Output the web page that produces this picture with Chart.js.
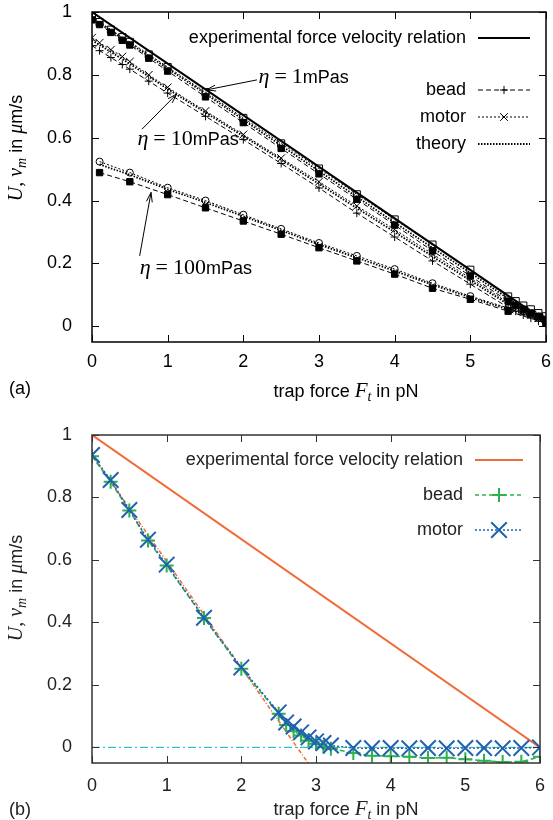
<!DOCTYPE html>
<html>
<head>
<meta charset="utf-8">
<script src="https://cdn.jsdelivr.net/npm/chart.js@4.4.0/dist/chart.umd.min.js"></script>
<style>
html, body { margin: 0; padding: 0; background: #fff; }
canvas { display: block; }
</style>
</head>
<body>
<canvas id="chart-a" width="553" height="415"></canvas>
<canvas id="chart-b" width="553" height="405"></canvas>
<script>
// ---- data ----
const forceTicks = [0, 1, 2, 3, 4, 5, 6];
const speedTicks = [0, 0.2, 0.4, 0.6, 0.8, 1];

// panel (a)
const expForce = [0, 6];
const expSpeedA = [1, 0.015];

const forceA = [0, 0.1, 0.25, 0.4, 0.5, 0.75, 1, 1.5, 2, 2.5, 3, 3.5, 4, 4.5, 5, 5.5, 5.6, 5.7, 5.8, 5.9, 6];
const bead1 = [0.975, 0.96, 0.935, 0.91, 0.895, 0.853, 0.812, 0.73, 0.648, 0.566, 0.485, 0.404, 0.322, 0.24, 0.16, 0.08, 0.066, 0.054, 0.042, 0.032, 0.022];
const motor1 = [0.985, 0.968, 0.944, 0.92, 0.905, 0.865, 0.825, 0.745, 0.663, 0.582, 0.502, 0.42, 0.34, 0.26, 0.18, 0.095, 0.08, 0.066, 0.054, 0.042, 0.032];
const theory1 = [0.98, 0.964, 0.94, 0.915, 0.9, 0.86, 0.82, 0.74, 0.657, 0.575, 0.494, 0.412, 0.33, 0.25, 0.17, 0.088, 0.073, 0.06, 0.048, 0.036, 0.026];

const bead10 = [0.893, 0.877, 0.855, 0.833, 0.818, 0.78, 0.742, 0.668, 0.594, 0.518, 0.44, 0.36, 0.284, 0.208, 0.134, 0.06, 0.048, 0.036, 0.026, 0.016, 0.008];
const motor10 = [0.918, 0.902, 0.88, 0.858, 0.842, 0.8, 0.76, 0.685, 0.61, 0.535, 0.46, 0.383, 0.308, 0.23, 0.153, 0.075, 0.062, 0.05, 0.038, 0.026, 0.015];
const theory10 = [0.91, 0.895, 0.873, 0.85, 0.835, 0.795, 0.755, 0.68, 0.605, 0.53, 0.453, 0.376, 0.3, 0.222, 0.146, 0.07, 0.056, 0.044, 0.032, 0.021, 0.012];

const force100 = [0.1, 0.5, 1, 1.5, 2, 2.5, 3, 3.5, 4, 4.5, 5, 5.5, 6];
const bead100 = [0.489, 0.46, 0.419, 0.377, 0.335, 0.293, 0.25, 0.208, 0.166, 0.121, 0.086, 0.048, 0.01];
const motor100 = [0.524, 0.489, 0.441, 0.4, 0.355, 0.31, 0.265, 0.224, 0.182, 0.137, 0.096, 0.058, 0.02];
const theory100 = [0.515, 0.482, 0.436, 0.394, 0.35, 0.305, 0.26, 0.218, 0.176, 0.132, 0.092, 0.054, 0.016];

// panel (b)
const expSpeedB = [1, 0];
const zeroForce = [0, 6];
const zeroSpeed = [0, 0];
const fitForce = [0, 2.9];
const fitSpeed = [0.936, -0.052];

const forceB = [0, 0.25, 0.5, 0.75, 1, 1.5, 2, 2.5, 2.6, 2.7, 2.8, 2.9, 3, 3.1, 3.2, 3.5, 3.75, 4, 4.25, 4.5, 4.75, 5, 5.25, 5.5, 5.75, 6];
const beadB = [0.932, 0.85, 0.758, 0.662, 0.582, 0.414, 0.252, 0.108, 0.072, 0.052, 0.038, 0.022, 0.012, 0.002, -0.004, -0.018, -0.027, -0.028, -0.03, -0.034, -0.033, -0.038, -0.043, -0.047, -0.046, -0.03];
const motorB = [0.936, 0.856, 0.76, 0.665, 0.585, 0.415, 0.256, 0.112, 0.08, 0.067, 0.048, 0.032, 0.019, 0.014, 0.006, -0.002, -0.003, -0.002, -0.003, -0.002, -0.003, -0.002, -0.002, -0.003, -0.002, 0];

// ---- look ----
const SANS = '"Liberation Sans", Arial, sans-serif';
const SERIF = '"Liberation Serif", "Times New Roman", serif';
const ORANGE = '#f26a35';
const GREEN = '#2bb24c';
const BLUE = '#1f63b0';
const CYAN = '#2fc3c8';

function xy(xs, ys) {
    return xs.map((x, i) => ({ x: x, y: ys[i] }));
}

function ds(label, xs, ys, st) {
    return Object.assign({
        label: label,
        data: xy(xs, ys),
        showLine: true,
        fill: false,
        tension: 0,
        borderColor: '#000',
        borderWidth: 1,
        pointRadius: 0,
        pointBorderColor: '#000',
        pointBackgroundColor: '#000',
        pointBorderWidth: 1
    }, st);
}

// rich text: list of {t, f, dy, gap}
function richWidth(ctx, segs) {
    let w = 0;
    segs.forEach(s => { ctx.font = s.f; w += (s.gap || 0) + ctx.measureText(s.t).width; });
    return w;
}
function rich(ctx, segs, x, y, align) {
    let cx = align === 'center' ? x - richWidth(ctx, segs) / 2 : (align === 'right' ? x - richWidth(ctx, segs) : x);
    ctx.textBaseline = 'alphabetic';
    ctx.textAlign = 'left';
    segs.forEach(s => {
        ctx.font = s.f;
        cx += s.gap || 0;
        ctx.fillText(s.t, cx, y + (s.dy || 0));
        cx += ctx.measureText(s.t).width;
    });
}

function mark(ctx, type, x, y, r) {
    ctx.beginPath();
    if (type === 'plus') {
        ctx.moveTo(x - r, y); ctx.lineTo(x + r, y);
        ctx.moveTo(x, y - r); ctx.lineTo(x, y + r);
    } else {
        const d = r * Math.SQRT1_2;
        ctx.moveTo(x - d, y - d); ctx.lineTo(x + d, y + d);
        ctx.moveTo(x - d, y + d); ctx.lineTo(x + d, y - d);
    }
    ctx.stroke();
}

function arrow(ctx, x1, y1, x2, y2) {
    const a = Math.atan2(y2 - y1, x2 - x1), L = 10, h = 0.3;
    ctx.beginPath();
    ctx.moveTo(x1, y1); ctx.lineTo(x2, y2);
    ctx.moveTo(x2 - L * Math.cos(a - h), y2 - L * Math.sin(a - h));
    ctx.lineTo(x2, y2);
    ctx.lineTo(x2 - L * Math.cos(a + h), y2 - L * Math.sin(a + h));
    ctx.stroke();
}

const yTitle = [
    { t: 'U', f: 'italic 20px ' + SERIF },
    { t: ',', f: '20px ' + SERIF },
    { t: 'v', f: 'italic 20px ' + SERIF, gap: 5 },
    { t: 'm', f: 'italic 14px ' + SERIF, dy: 4 },
    { t: ' in ', f: '18px ' + SANS },
    { t: 'μ', f: 'italic 20px ' + SERIF },
    { t: 'm/s', f: '18px ' + SANS }
];
const xTitle = [
    { t: 'trap force ', f: '18px ' + SANS },
    { t: 'F', f: 'italic 21px ' + SERIF },
    { t: 't', f: 'italic 14px ' + SERIF, dy: 4 },
    { t: ' in pN', f: '18px ' + SANS }
];
function etaLabel(n) {
    return [
        { t: 'η', f: 'italic 22px ' + SERIF },
        { t: '=', f: '22px ' + SERIF, gap: 5 },
        { t: n, f: '22px ' + SERIF, gap: 5 },
        { t: 'mPas', f: '18px ' + SANS }
    ];
}

// ticks inside on all four sides + frame
const frame = {
    id: 'frame',
    afterDatasetsDraw(chart, args, o) {
        const { ctx, chartArea: a } = chart;
        const x = chart.scales.x, y = chart.scales.y;
        ctx.save();
        ctx.strokeStyle = o.color;
        ctx.lineWidth = 1;
        ctx.beginPath();
        x.ticks.forEach(t => {
            const p = Math.round(x.getPixelForValue(t.value)) + 0.5;
            ctx.moveTo(p, a.bottom); ctx.lineTo(p, a.bottom - 7);
            ctx.moveTo(p, a.top); ctx.lineTo(p, a.top + 7);
        });
        y.ticks.forEach(t => {
            const p = Math.round(y.getPixelForValue(t.value)) + 0.5;
            ctx.moveTo(a.left, p); ctx.lineTo(a.left + 7, p);
            ctx.moveTo(a.right, p); ctx.lineTo(a.right - 7, p);
        });
        ctx.stroke();
        ctx.lineWidth = 1.5;
        ctx.strokeRect(a.left, a.top, a.right - a.left, a.bottom - a.top);
        ctx.restore();
    }
};

// legend, labels, axis titles
const overlay = {
    id: 'overlay',
    afterDraw(chart, args, o) {
        const ctx = chart.ctx;
        const x = chart.scales.x, y = chart.scales.y;
        ctx.save();
        ctx.fillStyle = o.text;
        ctx.strokeStyle = o.text;

        o.legend.forEach(e => {
            ctx.font = '18px ' + SANS;
            ctx.textAlign = 'right';
            ctx.textBaseline = 'middle';
            ctx.fillStyle = o.text;
            ctx.fillText(e.label, o.legendText, e.y);
            ctx.strokeStyle = e.color;
            ctx.lineWidth = e.width;
            ctx.setLineDash(e.dash);
            ctx.beginPath();
            ctx.moveTo(o.legendLine[0], e.y);
            ctx.lineTo(o.legendLine[1], e.y);
            ctx.stroke();
            ctx.setLineDash([]);
            if (e.mark) {
                ctx.lineWidth = e.markWidth;
                mark(ctx, e.mark, (o.legendLine[0] + o.legendLine[1]) / 2, e.y, e.markSize);
            }
        });

        ctx.fillStyle = o.text;
        ctx.strokeStyle = o.text;
        ctx.lineWidth = 1;
        (o.notes || []).forEach(n => {
            rich(ctx, etaLabel(n.eta), x.getPixelForValue(n.at[0]), y.getPixelForValue(n.at[1]) + 3, 'left');
            arrow(ctx, x.getPixelForValue(n.from[0]), y.getPixelForValue(n.from[1]),
                x.getPixelForValue(n.to[0]), y.getPixelForValue(n.to[1]));
        });

        rich(ctx, xTitle, o.xTitle[0], o.xTitle[1] + 6, 'center');
        ctx.font = '18px ' + SANS;
        ctx.textAlign = 'left';
        ctx.textBaseline = 'middle';
        ctx.fillText(o.panel, 9, o.panelY);

        ctx.translate(o.yTitle[0], o.yTitle[1]);
        ctx.rotate(-Math.PI / 2);
        rich(ctx, yTitle, 0, 6, 'center');
        ctx.restore();
    }
};

// y labels: lineHeight 0 so the tick padding alone sets the top gap
function scalesFor(color, xHeight, xLine) {
    return {
        x: {
            type: 'linear', min: 0, max: 6,
            afterBuildTicks: s => { s.ticks = forceTicks.map(v => ({ value: v })); },
            afterFit: s => { s.height = xHeight; },
            grid: { display: false },
            border: { display: false },
            ticks: { color: color, font: { family: SANS, size: 18, lineHeight: xLine }, padding: 2, maxRotation: 0, callback: v => String(v) }
        },
        y: {
            type: 'linear', min: -0.05, max: 1,
            afterBuildTicks: s => { s.ticks = speedTicks.map(v => ({ value: v })); },
            afterFit: s => { s.width = 92; },
            grid: { display: false },
            border: { display: false },
            ticks: { color: color, font: { family: SANS, size: 18, lineHeight: 0 }, padding: 12, callback: v => String(v) }
        }
    };
}

const beadA = { borderDash: [5, 3] };
const motorA = { borderDash: [2, 2] };
const theoryA = { borderDash: [1.5, 1.5], borderWidth: 1.8 };

new Chart(document.getElementById('chart-a'), {
    type: 'line',
    data: {
        datasets: [
            ds('experimental force velocity relation', expForce, expSpeedA, { borderWidth: 2 }),
            ds('bead 1', forceA, bead1, Object.assign({ pointStyle: 'rect', pointRadius: 4.5 }, beadA)),
            ds('motor 1', forceA, motor1, Object.assign({ pointStyle: 'rect', pointRadius: 5, pointBackgroundColor: 'rgba(255,255,255,0)' }, motorA)),
            ds('theory 1', forceA, theory1, theoryA),
            ds('bead 10', forceA, bead10, Object.assign({ pointStyle: 'cross', pointRadius: 4 }, beadA)),
            ds('motor 10', forceA, motor10, Object.assign({ pointStyle: 'crossRot', pointRadius: 5.5 }, motorA)),
            ds('theory 10', forceA, theory10, theoryA),
            ds('bead 100', force100, bead100, Object.assign({ pointStyle: 'rect', pointRadius: 4.5 }, beadA)),
            ds('motor 100', force100, motor100, Object.assign({ pointStyle: 'circle', pointRadius: 3.5, pointBackgroundColor: 'rgba(255,255,255,0)' }, motorA)),
            ds('theory 100', force100, theory100, theoryA)
        ]
    },
    options: {
        responsive: false,
        animation: false,
        devicePixelRatio: 1,
        layout: { padding: { top: 12, right: 7, left: 0, bottom: 0 } },
        plugins: {
            legend: { display: false },
            tooltip: { enabled: false },
            frame: { color: '#000' },
            overlay: {
                text: '#000',
                legendText: 466,
                legendLine: [478, 530],
                legend: [
                    { label: 'experimental force velocity relation', y: 38, color: '#000', width: 2, dash: [] },
                    { label: 'bead', y: 90, color: '#000', width: 1, dash: [5, 3], mark: 'plus', markSize: 4, markWidth: 1 },
                    { label: 'motor', y: 117, color: '#000', width: 1, dash: [2, 2], mark: 'x', markSize: 5.5, markWidth: 1 },
                    { label: 'theory', y: 144, color: '#000', width: 1.8, dash: [1.5, 1.5] }
                ],
                notes: [
                    { eta: '1', at: [2.2, 0.784], from: [2.18, 0.784], to: [1.51, 0.752] },
                    { eta: '10', at: [0.6, 0.586], from: [0.66, 0.627], to: [1.12, 0.739] },
                    { eta: '100', at: [0.63, 0.176], from: [0.63, 0.224], to: [0.78, 0.426] }
                ],
                xTitle: [346, 391],
                panel: '(a)',
                panelY: 389,
                yTitle: [16, 148]
            }
        },
        scales: scalesFor('#000', 73, 1.1)
    },
    plugins: [frame, overlay]
});

new Chart(document.getElementById('chart-b'), {
    type: 'line',
    data: {
        datasets: [
            ds('motor', forceB, motorB, { borderColor: BLUE, borderWidth: 1.5, borderDash: [2, 2], pointStyle: 'crossRot', pointRadius: 11, pointBorderColor: BLUE, pointBorderWidth: 2 }),
            ds('bead', forceB, beadB, { borderColor: GREEN, borderWidth: 1.5, borderDash: [5, 3], pointStyle: 'cross', pointRadius: 7, pointBorderColor: GREEN, pointBorderWidth: 2 }),
            ds('fit', fitForce, fitSpeed, { borderColor: ORANGE, borderWidth: 1.5, borderDash: [4, 2, 1, 2] }),
            ds('zero', zeroForce, zeroSpeed, { borderColor: CYAN, borderWidth: 1.2, borderDash: [8, 3, 2, 3] }),
            ds('experimental force velocity relation', expForce, expSpeedB, { borderColor: ORANGE, borderWidth: 2 })
        ]
    },
    options: {
        responsive: false,
        animation: false,
        devicePixelRatio: 1,
        layout: { padding: { top: 20, right: 7, left: 0, bottom: 0 } },
        plugins: {
            legend: { display: false },
            tooltip: { enabled: false },
            frame: { color: '#333' },
            overlay: {
                text: '#222',
                legendText: 463,
                legendLine: [475, 523],
                legend: [
                    { label: 'experimental force velocity relation', y: 45, color: ORANGE, width: 2, dash: [] },
                    { label: 'bead', y: 80, color: GREEN, width: 1.5, dash: [4, 3], mark: 'plus', markSize: 7, markWidth: 2 },
                    { label: 'motor', y: 115, color: BLUE, width: 1.5, dash: [2, 2], mark: 'x', markSize: 11, markWidth: 2 }
                ],
                xTitle: [346, 394],
                panel: '(b)',
                panelY: 395,
                yTitle: [16, 173]
            }
        },
        scales: scalesFor('#222', 57, 1.45)
    },
    plugins: [frame, overlay]
});
</script>
</body>
</html>
